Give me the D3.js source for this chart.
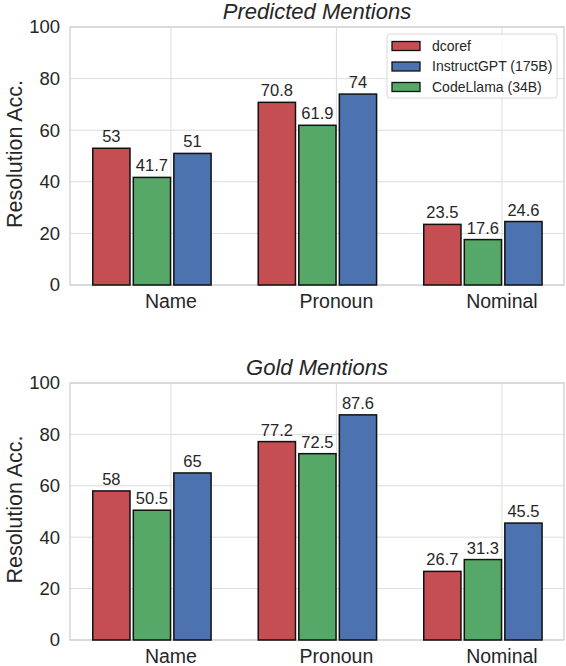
<!DOCTYPE html>
<html>
<head>
<meta charset="utf-8">
<script src="https://d3js.org/d3.v7.min.js"></script>
<style>
body { margin: 0; background: #fff; }
text { font-family: "Liberation Sans", Arial, sans-serif; fill: #262626; }
.grid line { stroke: #dcdcdc; stroke-width: 1; }
.bar { stroke: #111; stroke-width: 1.5; }
</style>
</head>
<body>
<div id="chart"></div>
<script>
// values
const categories = ["Name", "Pronoun", "Nominal"];
const seriesNames = ["dcoref", "CodeLlama (34B)", "InstructGPT (175B)"];
const legendOrder = ["dcoref", "InstructGPT (175B)", "CodeLlama (34B)"];
const colors = {"dcoref": "#C44E52", "CodeLlama (34B)": "#55A868", "InstructGPT (175B)": "#4C72B0"};

const predDcoref = [53, 70.8, 23.5];
const predCodeLlama = [41.7, 61.9, 17.6];
const predInstruct = [51, 74, 24.6];

const goldDcoref = [58, 77.2, 26.7];
const goldCodeLlama = [50.5, 72.5, 31.3];
const goldInstruct = [65, 87.6, 45.5];

const yTicks = [0, 20, 40, 60, 80, 100];

const W = 566, H = 666;
const left = 70, right = 564;

// bar centre offsets (in category units) for red, green, blue
const offsets = [-0.36, -0.115, 0.13];
const barW = 0.225;

const svg = d3.select("#chart").append("svg")
  .attr("width", W).attr("height", H);

const x = d3.scaleLinear().domain([-0.61, 2.375]).range([left, right]);

function panel(title, top, bottom, series, showLegend) {
  const y = d3.scaleLinear().domain([0, 100]).range([bottom, top]);
  const g = svg.append("g");

  // grid
  const grid = g.append("g").attr("class", "grid");
  grid.selectAll(".hy").data(yTicks).enter().append("line")
    .attr("x1", left).attr("x2", right)
    .attr("y1", d => y(d)).attr("y2", d => y(d));
  grid.selectAll(".vx").data(categories).enter().append("line")
    .attr("x1", (d, i) => x(i)).attr("x2", (d, i) => x(i))
    .attr("y1", top).attr("y2", bottom);

  // frame
  g.append("rect")
    .attr("x", left).attr("y", top)
    .attr("width", right - left).attr("height", bottom - top)
    .attr("fill", "none").attr("stroke", "#d0d0d0").attr("stroke-width", 1.3);

  // y tick labels
  g.selectAll(".yt").data(yTicks).enter().append("text")
    .attr("x", left - 10).attr("y", d => y(d))
    .attr("dy", "0.35em").attr("text-anchor", "end")
    .style("font-size", "18.5px")
    .text(d => d);

  // x tick labels
  g.selectAll(".xt").data(categories).enter().append("text")
    .attr("x", (d, i) => x(i)).attr("y", bottom + 23)
    .attr("text-anchor", "middle")
    .style("font-size", "19.5px")
    .text(d => d);

  // y label
  g.append("text")
    .attr("transform", "translate(22," + ((top + bottom) / 2 - 2) + ") rotate(-90)")
    .attr("text-anchor", "middle")
    .style("font-size", "21.5px")
    .text("Resolution Acc.");

  // title
  g.append("text")
    .attr("x", (left + right) / 2).attr("y", top - 8.5)
    .attr("text-anchor", "middle")
    .style("font-size", "22px").style("font-style", "italic")
    .text(title);

  // bars
  series.forEach((vals, s) => {
    const name = seriesNames[s];
    g.selectAll(".b" + s).data(vals).enter().append("rect")
      .attr("class", "bar")
      .attr("fill", colors[name])
      .attr("x", (d, i) => x(i + offsets[s] - barW / 2))
      .attr("width", x(barW) - x(0))
      .attr("y", d => y(d))
      .attr("height", d => bottom - y(d));

    g.selectAll(".l" + s).data(vals).enter().append("text")
      .attr("x", (d, i) => x(i + offsets[s]))
      .attr("y", d => y(d) - 6)
      .attr("text-anchor", "middle")
      .style("font-size", "16.5px")
      .text(d => d);
  });

  if (showLegend) {
    const lg = g.append("g").attr("transform", "translate(387," + (top + 7) + ")");
    lg.append("rect")
      .attr("width", 170).attr("height", 64).attr("rx", 3)
      .attr("fill", "#fff").attr("fill-opacity", 0.8)
      .attr("stroke", "#d8d8d8");
    legendOrder.forEach((name, i) => {
      lg.append("rect")
        .attr("x", 5).attr("y", 7.5 + i * 20.5)
        .attr("width", 28).attr("height", 9)
        .attr("fill", colors[name]).attr("stroke", "#111").attr("stroke-width", 1.3);
      lg.append("text")
        .attr("x", 45).attr("y", 12 + i * 20.5)
        .attr("dy", "0.35em")
        .style("font-size", "14px")
        .text(name);
    });
  }
}

panel("Predicted Mentions", 27, 285, [predDcoref, predCodeLlama, predInstruct], true);
panel("Gold Mentions", 383, 640, [goldDcoref, goldCodeLlama, goldInstruct], false);
</script>
</body>
</html>
